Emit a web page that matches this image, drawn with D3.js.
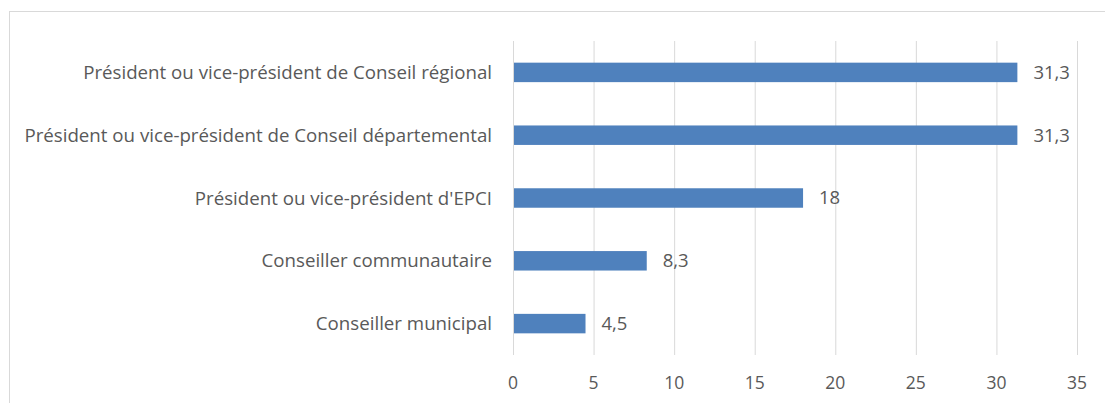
<!DOCTYPE html>
<html>
<head>
<meta charset="utf-8">
<script src="https://cdn.jsdelivr.net/npm/d3@7"></script>
<style>
  body { margin: 0; background: #fff; }
  text { font-family: "Open Sans", sans-serif; fill: #595959; }
</style>
</head>
<body>
<svg id="chart" width="1105" height="403"></svg>
<script>
// data
var categories = [
  "Président ou vice-président de Conseil régional",
  "Président ou vice-président de Conseil départemental",
  "Président ou vice-président d'EPCI",
  "Conseiller communautaire",
  "Conseiller municipal"
];
var values = [31.3, 31.3, 18, 8.3, 4.5];
var valueLabels = ["31,3", "31,3", "18", "8,3", "4,5"];
var ticks = [0, 5, 10, 15, 20, 25, 30, 35];

var svg = d3.select("#chart");

// chart frame
svg.append("rect")
  .attr("x", 9.5).attr("y", 11.5)
  .attr("width", 1120).attr("height", 420)
  .attr("fill", "none").attr("stroke", "#d9d9d9");

var x = d3.scaleLinear().domain([0, 35]).range([513, 1077]);
var y = d3.scaleBand().domain(categories).range([41, 355]).paddingInner(0.69).paddingOuter(0.345);

// gridlines
svg.append("g").selectAll("line")
  .data(ticks)
  .join("line")
  .attr("x1", d => x(d) + 0.5).attr("x2", d => x(d) + 0.5)
  .attr("y1", 41).attr("y2", 355)
  .attr("stroke", "#d9d9d9").attr("stroke-width", 1);

// bars
svg.append("g").selectAll("rect")
  .data(values)
  .join("rect")
  .attr("x", x(0) + 1)
  .attr("y", (d, i) => y(categories[i]))
  .attr("width", d => x(d) - x(0) - 1)
  .attr("height", y.bandwidth())
  .attr("fill", "#4f81bd");

// value labels
svg.append("g").selectAll("text")
  .data(values)
  .join("text")
  .attr("x", d => x(d) + 16)
  .attr("y", (d, i) => y(categories[i]) + y.bandwidth() / 2)
  .attr("dy", "0.35em")
  .attr("font-size", 18.5)
  .text((d, i) => valueLabels[i]);

// category axis labels
svg.append("g").selectAll("text")
  .data(categories)
  .join("text")
  .attr("x", 492)
  .attr("y", d => y(d) + y.bandwidth() / 2)
  .attr("dy", "0.35em")
  .attr("text-anchor", "end")
  .attr("font-size", 18.7)
  .text(d => d);

// x axis tick labels
svg.append("g").selectAll("text")
  .data(ticks)
  .join("text")
  .attr("x", d => x(d))
  .attr("y", 383)
  .attr("dy", "0.35em")
  .attr("text-anchor", "middle")
  .attr("font-size", 17.5)
  .text(d => d);
</script>
</body>
</html>
